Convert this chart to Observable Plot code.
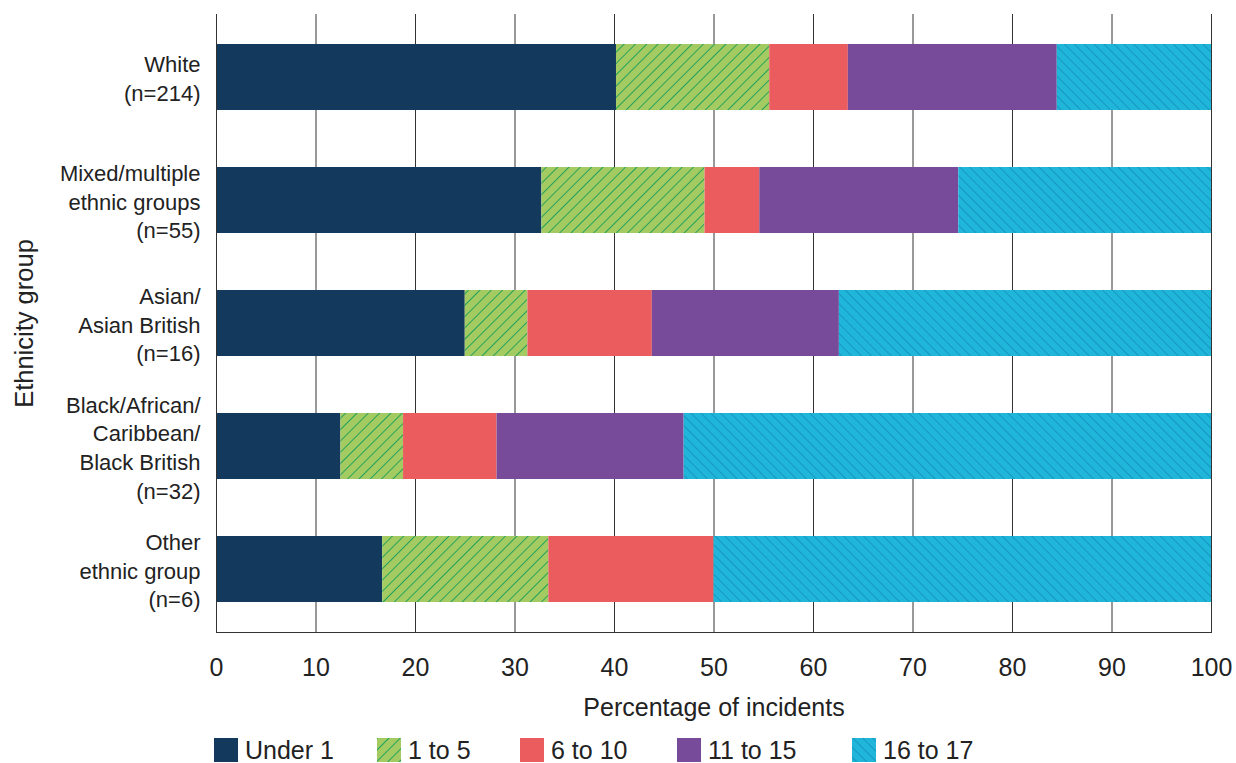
<!DOCTYPE html>
<html>
<head>
<meta charset="utf-8">
<script src="https://cdn.jsdelivr.net/npm/d3@7"></script>
<script src="https://cdn.jsdelivr.net/npm/@observablehq/plot@0.6"></script>
<style>
  html, body { margin: 0; padding: 0; background: #fff; }
  body { width: 1236px; height: 763px; overflow: hidden; font-family: "Liberation Sans", Arial, sans-serif; }
  #chart svg { display: block; }
  #legend { display: flex; align-items: center; margin-left: 214px; margin-top: 7px; font-size: 25px; line-height: 1; color: #222; height: 26px; }
  .item { display: flex; align-items: center; gap: 7px; flex: none; }
  .item svg { display: block; }
</style>
</head>
<body>
<div id="chart"></div>
<div id="legend"></div>
<script>
// ---- data ----
const groups = [
  "White\n(n=214)",
  "Mixed/multiple\nethnic groups\n(n=55)",
  "Asian/\nAsian British\n(n=16)",
  "Black/African/\nCaribbean/\nBlack British\n(n=32)",
  "Other\nethnic group\n(n=6)"
];
const ages = ["Under 1", "1 to 5", "6 to 10", "11 to 15", "16 to 17"];
const under1    = [40.2, 32.7, 25.0, 12.5, 16.7];
const age1to5   = [15.4, 16.4, 6.3, 6.3, 16.7];
const age6to10  = [7.9, 5.5, 12.5, 9.4, 16.6];
const age11to15 = [21.0, 20.0, 18.8, 18.8, 0];
const age16to17 = [15.5, 25.4, 37.4, 53.0, 50.0];
const xTicks = [0, 10, 20, 30, 40, 50, 60, 70, 80, 90, 100];
const xLabel = "Percentage of incidents";
const yLabel = "Ethnicity group";

const series = [under1, age1to5, age6to10, age11to15, age16to17];
const rows = [];
groups.forEach((g, i) => ages.forEach((a, j) => rows.push({group: g, age: a, value: series[j][i]})));

const fills = ["#133A5C", "url(#hatchGreen)", "#EB5C5F", "#774B99", "url(#hatchBlue)"];

const chart = Plot.plot({
  width: 1236,
  height: 730,
  marginLeft: 216,
  marginRight: 25,
  marginTop: 14,
  marginBottom: 98,
  style: {fontFamily: "'Liberation Sans', Arial, sans-serif", fontSize: "22px", color: "#222", background: "#fff"},
  x: {domain: [0, 100]},
  y: {domain: groups, paddingInner: 0.465, paddingOuter: 0.2325},
  color: {domain: ages, range: fills},
  marks: [
    Plot.ruleX(xTicks, {stroke: "#333", strokeWidth: 1}),
    Plot.barX(rows, {x: "value", y: "group", fill: "age"}),
    Plot.frame({anchor: "bottom", stroke: "#333"}),
    Plot.ruleX([0], {stroke: "#333"}),
    Plot.axisX({ticks: xTicks, tickSize: 0, tickPadding: 26, fontSize: 25, label: null}),
    Plot.axisY({tickSize: 0, tickPadding: 16, fontSize: 22, lineHeight: 1.3, label: null}),
    Plot.text([xLabel], {frameAnchor: "bottom", dy: 75, fontSize: 25, lineAnchor: "middle", fill: "#222"}),
    Plot.text([yLabel], {frameAnchor: "left", dx: -192, rotate: -90, textAnchor: "middle", fontSize: 25.5, fill: "#222"})
  ]
});

function addDefs(svg) {
  const ns = "http://www.w3.org/2000/svg";
  const defs = document.createElementNS(ns, "defs");
  defs.innerHTML = `
    <pattern id="hatchGreen" patternUnits="userSpaceOnUse" width="8" height="8" patternTransform="rotate(45)">
      <rect width="8" height="8" fill="#A4CB62"></rect>
      <line x1="0" y1="0" x2="0" y2="8" stroke="#25A25A" stroke-width="2"></line>
    </pattern>
    <pattern id="hatchBlue" patternUnits="userSpaceOnUse" width="7" height="7" patternTransform="rotate(-45)">
      <rect width="7" height="7" fill="#1FB6D9"></rect>
      <line x1="0" y1="0" x2="0" y2="7" stroke="#1895C4" stroke-width="2"></line>
    </pattern>`;
  svg.insertBefore(defs, svg.firstChild);
}
addDefs(chart);
document.getElementById("chart").appendChild(chart);

// legend (item widths match the reference spacing)
const itemWidths = [163, 143, 157, 175, null];
const legend = document.getElementById("legend");
ages.forEach((a, i) => {
  const item = document.createElement("div");
  item.className = "item";
  if (itemWidths[i]) item.style.width = itemWidths[i] + "px";
  const sw = document.createElementNS("http://www.w3.org/2000/svg", "svg");
  sw.setAttribute("width", 24);
  sw.setAttribute("height", 24);
  const r = document.createElementNS("http://www.w3.org/2000/svg", "rect");
  r.setAttribute("width", 24);
  r.setAttribute("height", 24);
  r.setAttribute("fill", fills[i]);
  sw.appendChild(r);
  const t = document.createElement("span");
  t.textContent = a;
  item.appendChild(sw);
  item.appendChild(t);
  legend.appendChild(item);
});
</script>
</body>
</html>
